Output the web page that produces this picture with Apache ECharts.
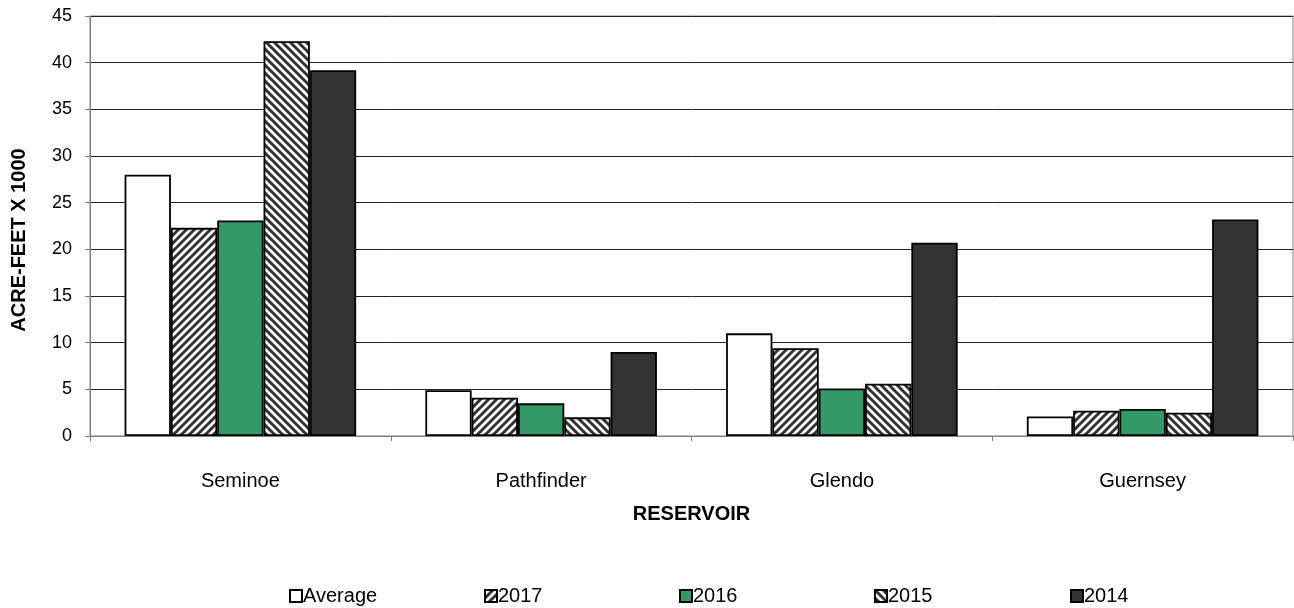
<!DOCTYPE html>
<html><head><meta charset="utf-8">
<script src="https://cdn.jsdelivr.net/npm/echarts@6/dist/echarts.min.js"></script>
<style>html,body{margin:0;padding:0;background:#fff}#c{width:1294px;height:608px}</style>
</head><body><div id="c"></div>
<script>
const categories = ['Seminoe', 'Pathfinder', 'Glendo', 'Guernsey'];
const seriesNames = ['Average', '2017', '2016', '2015', '2014'];
const avgValues = [28.0, 4.9, 11.0, 2.1];
const v2017 = [22.3, 4.1, 9.4, 2.7];
const v2016 = [23.1, 3.5, 5.1, 2.9];
const v2015 = [42.3, 2.0, 5.6, 2.5];
const v2014 = [39.2, 9.0, 20.7, 23.2];
const yTicks = { min: 0, max: 45, interval: 5 };

function stripe(dir) {
  const s = 8, c = document.createElement('canvas');
  c.width = s; c.height = s;
  const g = c.getContext('2d');
  g.fillStyle = '#fff'; g.fillRect(0, 0, s, s);
  g.strokeStyle = '#333'; g.lineWidth = 3;
  g.beginPath();
  for (let k = -1; k <= 3; k++) {
    if (dir > 0) { g.moveTo(k * s + s, -s); g.lineTo(k * s - 2 * s, 2 * s); }
    else { g.moveTo(k * s - s, -s); g.lineTo(k * s + 2 * s, 2 * s); }
  }
  g.stroke();
  return { image: c, repeat: 'repeat' };
}

const fills = ['#ffffff', stripe(1), '#339966', stripe(-1), '#333333'];
const dataSets = [avgValues, v2017, v2016, v2015, v2014];

const chart = echarts.init(document.getElementById('c'));
const FONT = 'Liberation Sans, Arial, sans-serif';
const legendLefts = [284, 479, 674, 869, 1065];

chart.setOption({
  animation: false,
  backgroundColor: '#fff',
  grid: { left: 90, right: 1, top: 16, bottom: 172, show: true, borderColor: '#808080', borderWidth: 1 },
  legend: seriesNames.map((n, i) => ({
    data: [n], left: legendLefts[i], top: 581, itemWidth: 12, itemHeight: 12, itemGap: 0,
    icon: 'rect', textStyle: { fontFamily: FONT, fontSize: 20, color: '#000', padding: [0, 0, 0, -4] }
  })),
  graphic: [{
    type: 'text', x: 19, y: 240, rotation: Math.PI / 2,
    style: { text: 'ACRE-FEET X 1000', fontFamily: FONT, fontSize: 20, fontWeight: 'bold', fill: '#000', align: 'center', verticalAlign: 'middle' }
  }],
  xAxis: {
    type: 'category', data: categories,
    name: 'RESERVOIR', nameLocation: 'middle', nameGap: 68,
    nameTextStyle: { fontFamily: FONT, fontSize: 20, fontWeight: 'bold', color: '#000' },
    axisLine: { lineStyle: { color: '#808080' } },
    axisTick: { show: true, length: 5, lineStyle: { color: '#808080' } },
    axisLabel: { fontFamily: FONT, fontSize: 20, color: '#000', margin: 35 }
  },
  yAxis: {
    type: 'value', min: yTicks.min, max: yTicks.max, interval: yTicks.interval,
    axisLine: { show: true, lineStyle: { color: '#808080' } },
    axisTick: { show: true, length: 5, inside: false, lineStyle: { color: '#808080' } },
    axisLabel: { fontFamily: FONT, fontSize: 18, color: '#000', margin: 18 },
    splitLine: { lineStyle: { color: '#222', width: 1 } }
  },
  series: seriesNames.map((n, i) => ({
    name: n, type: 'bar', data: dataSets[i],
    barGap: '0%', barCategoryGap: '23%',
    itemStyle: { color: fills[i], borderColor: '#000', borderWidth: 1.8 }
  }))
});
</script></body></html>
